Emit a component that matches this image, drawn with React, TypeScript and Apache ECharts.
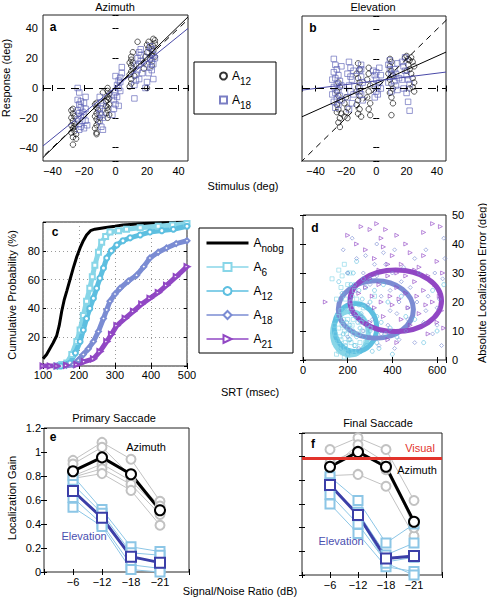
import React, { useEffect, useRef } from "react";
import * as echarts from "echarts";

const FONT = "Liberation Sans, Arial, Helvetica, sans-serif";

// ---------- Panel a (Azimuth) : [stimulus, response] ----------
const azA12: number[][] = [
  [-27,-38],[-25,-34],[-27,-33],[-28,-30],[-26,-29],[-27,-27],[-28,-25],[-26,-24],[-27,-22],[-28,-20],[-26,-19],[-27,-17],[-28,-15],[-27,-14],[-25,-31],[-26,-26],
  [-12,-31],[-12,-30],[-13,-27],[-12,-25],[-11,-23],[-12,-21],[-13,-19],[-12,-17],[-11,-15],[-12,-13],[-13,-11],[-12,-10],[-10,-20],[-8,-3],
  [-5,-20],[-4,-18],[-6,-17],[-5,-15],[-5,-13],[-4,-11],[-6,-9],[-5,-8],[-5,-6],[-4,-4],[-5,-2],[-5,0],[-6,-12],[-4,-7],
  [9,1],[10,3],[10,6],[9,9],[10,11],[11,13],[10,15],[9,17],[10,19],[10,21],[11,17],[14,31],[11,24],[12,8],
  [18,13],[18,17],[19,21],[20,24],[21,27],[20,29],[22,19],[23,22],[24,25],[24,28],[25,30],[25,32],[24,33],[23,15],[25,21],[21,31],[20,0],[23,26]
];
const azA18: number[][] = [
  [-24,0],[-23,-3],[-24,-8],[-23,-11],[-22,-13],[-24,-15],[-23,-17],[-22,-19],[-24,-21],[-23,-24],[-22,-26],[-23,-28],[-21,-16],[-21,-22],[-22,-9],
  [-20,-10],[-19,-14],[-20,-18],[-19,-22],[-18,-25],[-20,-27],[-19,-6],
  [-10,-6],[-9,-10],[-10,-14],[-9,-18],[-8,-20],[-10,-22],[-9,-26],[-8,-28],[-10,-17],[-8,-12],
  [-2,-18],[-1,-14],[0,-11],[-1,-8],[1,-6],[0,-3],[2,0],[1,2],[3,4],[3,7],[4,10],[2,5],[4,14],[-1,-5],[0,8],[3,-2],[2,-12],
  [12,-7],[12,2],[13,5],[13,9],[14,12],[15,16],[14,20],[16,22],[13,15],[15,24],[16,18],[15,6],[17,10],[16,26],
  [19,0],[20,4],[21,10],[22,14],[23,18],[22,20],[24,22],[23,26],[22,28],[24,16],[21,24],[25,20],[20,16],[23,12],[24,6]
];
const azFitA12: number[][] = [[-46,-46.7],[46,47.7]];
const azFitA18: number[][] = [[-46,-38.9],[46,40]];

// ---------- Panel b (Elevation) ----------
const elA12: number[][] = [
  [-25,4],[-24,1],[-26,-2],[-25,-5],[-24,-8],[-26,-11],[-25,-14],[-23,-17],[-24,-20],[-25,-23],[-24,-26],[-26,-16],
  [-20,-6],[-21,-10],[-19,-13],[-20,-16],[-21,-19],[-19,-20],
  [-12,17],[-11,13],[-13,10],[-12,7],[-11,4],[-12,1],[-13,-2],[-11,-5],[-12,-8],[-13,-11],[-11,-14],[-12,-17],[-10,-19],
  [-5,14],[-5,10],[-6,6],[-4,2],[-5,-2],[-6,-6],[-4,-10],[-5,-14],[-4,-18],
  [9,20],[10,18],[9,15],[10,12],[11,9],[9,6],[10,3],[11,0],[9,-3],[10,-6],[11,-10],[10,-18],[8,10],
  [19,21],[20,22],[21,20],[22,19],[23,21],[24,18],[25,15],[22,13],[23,10],[24,7],[25,4],[21,16],[20,12],[24,1],[25,-2],[22,0]
];
const elA18: number[][] = [
  [-28,20],[-27,16],[-26,13],[-28,11],[-25,9],[-27,7],[-24,5],[-26,3],[-28,1],[-25,-1],[-27,-3],[-24,-5],[-26,-7],[-28,-9],[-25,-11],[-27,-13],[-23,15],[-23,2],[-23,-8],[-29,6],[-29,-4],
  [-18,18],[-17,14],[-19,10],[-16,6],[-18,2],[-17,-2],[-19,-6],[-16,-10],[-18,-14],[-15,12],[-15,-4],[-17,8],
  [-10,16],[-11,12],[-10,8],[-9,4],[-11,0],[-10,-4],[-9,-8],[-10,13],[-11,-2],
  [-2,12],[-1,9],[0,6],[-2,3],[1,1],[0,-2],[-1,-6],[2,14],[3,9],[2,4],[3,0],[1,-4],[0,11],
  [8,16],[9,13],[10,10],[11,8],[12,5],[13,2],[14,-1],[8,4],[10,-2],[12,13],[14,17],[9,19],[15,7],[13,10],
  [17,18],[18,15],[19,12],[20,9],[21,6],[22,3],[18,0],[20,-3],[21,-9],[22,-15],[19,21],[17,6]
];
const elFitA12: number[][] = [[-49,-19.1],[46,24.6]];
const elFitA18: number[][] = [[-49,-1.1],[46,11.1]];
const unity: number[][] = [[-50,-50],[50,50]];

// ---------- Panel c : cumulative SRT [msec, %] ----------
const cumNobg: number[][] = [[100,5],[110,8],[119,12],[128,16],[138,21],[145,28],[152,38],[159,46],[166,52],[175,60],[184,68],[194,76],[203,82],[212,87],[221,91],[232,94],[244,95],[270,96],[300,97],[323,98],[380,99],[440,99.5],[500,100]];
const cumA6: number[][] = [[138,0],[152,1],[166,2],[180,8],[194,17],[203,25],[212,35],[221,45],[230,54],[237,62],[244,70],[254,79],[263,86],[274,90],[286,93],[310,94],[332,95],[370,96],[420,97],[460,98],[500,99]];
const cumA12: number[][] = [[150,0],[165,1],[175,2],[190,9],[203,17],[212,25],[221,33],[230,40],[240,47],[249,54],[258,61],[268,68],[277,75],[290,80],[305,84],[322,87],[342,89],[370,91],[397,93],[430,94],[462,95],[500,97]];
const cumA18: number[][] = [[140,0],[165,0.5],[184,1],[198,4],[212,8],[226,12],[240,17],[254,24],[268,33],[277,39],[286,45],[300,50],[314,54],[337,59],[360,63],[380,69],[397,75],[420,79],[443,82],[470,85],[500,87]];
const cumA21: number[][] = [[100,0],[120,0],[139,0],[165,0.5],[194,1],[215,3],[240,5],[258,10],[277,17],[290,22],[305,28],[328,33],[351,38],[374,43],[397,47],[420,51],[443,56],[470,62],[500,69]];

// ---------- Panel d : [SRT, abs. error] ----------
const errA6: number[][] = [[150,2],[160,3],[175,2.5],[190,4],[200,1.5],[210,3],[140,6],[165,8],[185,10],[205,7],[220,12],[235,5],[250,9],[180,14],[195,17],[215,20],[240,16],[260,13],[150,21],[170,25],[130,28],[200,26],[230,24],[280,6],[300,11],[175,12],[225,9],[155,15],[190,6],[245,3],[270,18],[320,22],[140,12],[210,30],[185,33],
  [160,5],[170,7],[180,3],[195,9],[205,11],[215,6],[225,14],[170,17],[190,21],[160,11],[145,9],[200,14],[230,2],[255,6],[265,10],[185,1],[220,18],[240,21],[175,29],[160,31]];
const errA12: number[][] = [[170,4],[200,2],[230,5],[260,3],[180,9],[210,12],[240,8],[270,14],[300,10],[330,6],[190,18],[220,22],[250,19],[280,25],[310,17],[160,27],[200,30],[240,34],[350,13],[380,20],[420,8],[460,15],[150,14],[285,5],[215,16],[265,21],[300,28],[340,4],[390,11],[600,10],[630,26],[175,23],[230,26],[255,11],[320,24],
  [190,5],[210,7],[225,10],[245,13],[260,16],[275,8],[290,12],[205,3],[235,15],[250,24],[270,28],[300,20],[310,3],[330,15],[360,26],[370,9],[195,13],[215,26],[285,18],[225,30],[400,2],[440,22],[500,14],[540,6],[580,24]];
const errA18: number[][] = [[180,38],[220,42],[240,35],[270,30],[300,26],[320,33],[360,37],[400,30],[440,27],[480,25],[520,30],[560,22],[600,18],[630,42],[625,28],[300,8],[340,5],[380,12],[420,16],[460,10],[500,6],[540,13],[580,9],[610,21],[260,15],[290,19],[350,22],[390,24],[430,20],[470,18],[200,8],[250,4],[410,4],[635,35],[330,29],
  [200,30],[230,25],[280,36],[330,40],[370,33],[410,38],[450,32],[500,35],[550,38],[590,30],[270,10],[310,14],[350,9],[390,17],[430,7],[470,14],[510,20],[550,17],[600,12],[620,5]];
const errA21: number[][] = [[100,20],[200,43],[260,46],[330,47],[370,45],[420,43],[580,47],[615,46],[540,44],[280,38],[320,35],[360,39],[400,36],[440,33],[480,37],[520,32],[560,29],[600,34],[625,30],[300,28],[340,26],[380,29],[420,25],[460,23],[500,27],[540,24],[580,20],[620,17],[630,11],[320,18],[360,15],[400,19],[440,14],[480,12],[520,16],[560,9],[600,13],[380,7],[420,6],[300,13],[250,23],[230,16],
  [280,25],[310,22],[350,20],[390,22],[430,21],[470,18],[510,22],[550,19],[590,26],[340,31],[380,33],[420,30],[460,29],[500,31],[350,42],[300,45],[240,40],[460,40],[540,36],[610,22]];
// ellipse fits: [centre SRT, centre error, half-width SRT, half-height error]
const ellA6: number[] = [212, 9.2, 80, 7.5];
const ellA12: number[] = [235, 11.2, 95, 8.3];
const ellA18: number[] = [326, 17.4, 168, 9.9];
const ellA21: number[] = [415, 20.4, 205, 10.6];

// ---------- Panels e / f : localization gain ----------
const snrLabels: string[] = ["\u22126", "\u221212", "\u221218", "\u221221"];
const primAzSubj: number[][] = [[0.93,1.08,0.94,0.59],[0.90,1.04,0.80,0.55],[0.80,0.90,0.76,0.52],[0.79,0.86,0.73,0.48],[0.78,0.82,0.68,0.39]];
const primElSubj: number[][] = [[0.80,0.52,0.21,0.17],[0.73,0.49,0.16,0.14],[0.69,0.45,0.12,0.08],[0.62,0.40,0.06,0.03],[0.54,0.38,0.02,0.00]];
const primAzMean: number[] = [0.84, 0.955, 0.815, 0.515];
const primElMean: number[] = [0.675, 0.452, 0.128, 0.078];
const finAzSubj: number[][] = [[1.06,1.16,1.06,0.63],[0.95,1.06,0.89,0.43],[0.84,0.85,0.75,0.33],[0.90,1.10,0.95,0.40]];
const finElSubj: number[][] = [[0.83,0.63,0.27,0.43],[0.75,0.53,0.17,0.27],[0.68,0.43,0.11,0.15],[0.60,0.35,0.07,0.03],[0.78,0.50,0.10,0.00]];
const finAzMean: number[] = [0.915, 1.04, 0.915, 0.45];
const finElMean: number[] = [0.76, 0.507, 0.14, 0.16];
const visualGain = 0.99;

// ---------- colours ----------
const C_BLUE_SQ = "#5a5fb5";
const C_A6 = "#88d6e8";
const C_A12 = "#5dbfe0";
const C_A18 = "#7b8cd3";
const C_A21 = "#9147c4";
const C_GRAY = "#c2c2c2";
const C_LBLUE = "#8cc6e6";
const C_MEANBLUE = "#3b3fa8";

const minus = (v: number) => (v < 0 ? "\u2212" + Math.abs(v) : String(v));

function ax(gridIndex: number, position: string, min: number, max: number, interval: number | undefined, fmt: ((v: number) => string) | null, margin = 4, split = false) {
  const o: any = {
    type: "value", gridIndex, position, min, max,
    axisLine: { show: false },
    axisTick: { show: true, inside: true, length: 3, lineStyle: { color: "#000", width: 1 } },
    splitLine: split ? { show: true, lineStyle: { color: "#9a9a9a", type: [1, 3], width: 1 } } : { show: false },
    axisLabel: fmt ? { show: true, formatter: fmt, fontFamily: FONT, fontSize: 11, color: "#000", margin } : { show: false },
  };
  if (interval !== undefined) o.interval = interval;
  return o;
}

const gridBox = (left: number, top: number, width: number, height: number) => ({ left, top, width, height, show: true, borderColor: "#222", borderWidth: 1 });

const hollow = (color: string, w = 0.8) => ({ color: "transparent", borderColor: color, borderWidth: w });

function text(x: number, y: number, s: string, opts: any = {}) {
  return {
    type: "text", x, y, rotation: opts.rotation || 0, z: 100,
    style: { text: s, fontFamily: FONT, fontSize: opts.size || 11, fontWeight: opts.bold ? "bold" : "normal", fill: opts.color || "#000", align: "center", verticalAlign: "middle" },
  };
}

export default function App() {
  const ref = useRef<HTMLDivElement>(null);
  useEffect(() => {
    if (!ref.current) return;
    const chart = echarts.init(ref.current, undefined, { renderer: "svg" });

    const abX = (v: number) => (Math.abs(v % 20) < 1e-9 ? minus(v) : "");
    const eX = (v: number) => snrLabels[v - 1] ?? "";
    const eY = (v: number) => String(Math.round(v * 10) / 10);

    const xAxis = [
      ax(0, "bottom", -46, 46, undefined, abX, 4), ax(0, "top", -46, 46, undefined, null),
      ax(1, "bottom", -49, 46, undefined, abX, 4), ax(1, "top", -49, 46, undefined, null),
      ax(2, "bottom", 100, 500, 100, (v) => String(v), 3, true), ax(2, "top", 100, 500, 100, null),
      ax(3, "bottom", 0, 640, 200, (v) => (v % 200 === 0 ? String(v) : ""), 4), ax(3, "top", 0, 640, 200, null),
      ax(4, "bottom", 0, 5, 1, eX, 4), ax(4, "top", 0, 5, 1, null),
      ax(5, "bottom", 0, 5, 1, eX, 4), ax(5, "top", 0, 5, 1, null),
    ];
    const yAxis = [
      ax(0, "left", -49, 49, undefined, abX, 5), ax(0, "right", -49, 49, undefined, null),
      ax(1, "left", -49, 49, undefined, null), ax(1, "right", -49, 49, undefined, null),
      ax(2, "left", 0, 100, 20, (v) => (v > 0 && v < 100 ? String(v) : ""), 3, true), ax(2, "right", 0, 100, 20, null),
      ax(3, "right", 0, 50, 10, (v) => String(v), 6), ax(3, "left", 0, 50, 10, null),
      ax(4, "left", 0, 1.2, 0.2, eY, 3), ax(4, "right", 0, 1.2, 0.2, null),
      ax(5, "left", 0, 1.2, 0.2, null), ax(5, "right", 0, 1.2, 0.2, null),
    ];

    const series: any[] = [];
    const idx = (g: number) => ({ xAxisIndex: 2 * g, yAxisIndex: 2 * g });

    // panels a & b
    const scatterPanel = (g: number, d12: number[][], d18: number[][], fit12: number[][], fit18: number[][]) => {
      series.push({ type: "line", ...idx(g), data: unity, symbol: "none", silent: true, lineStyle: { color: "#000", width: 1, type: [6, 5] },
        markLine: { silent: true, symbol: "none", label: { show: false }, lineStyle: { color: "#000", width: 1, type: [8, 6] }, data: [{ yAxis: 0 }] } });
      series.push({ name: "sA12", type: "scatter", ...idx(g), data: d12, symbol: "circle", symbolSize: 5.5, itemStyle: hollow("#000") });
      series.push({ name: "sA18", type: "scatter", ...idx(g), data: d18, symbol: "rect", symbolSize: 5.5, itemStyle: hollow(C_BLUE_SQ) });
      series.push({ type: "line", ...idx(g), data: fit12, symbol: "none", silent: true, lineStyle: { color: "#000", width: 1 } });
      series.push({ type: "line", ...idx(g), data: fit18, symbol: "none", silent: true, lineStyle: { color: "#4a4aa8", width: 1 } });
    };
    scatterPanel(0, azA12, azA18, azFitA12, azFitA18);
    scatterPanel(1, elA12, elA18, elFitA12, elFitA18);

    // panel c
    const cum = (name: string, data: number[][], color: string, symbol: string, width: number, rotate = 0) => ({
      name, type: "line", ...idx(2), data, symbol, symbolSize: 5, symbolRotate: rotate, showSymbol: symbol !== "none",
      lineStyle: { color, width }, itemStyle: { color, borderColor: color, borderWidth: 1 },
    });
    series.push(cum("nobg", cumNobg, "#000", "none", 3));
    series.push(cum("a6", cumA6, C_A6, "emptyRect", 5));
    series.push(cum("a12", cumA12, C_A12, "emptyCircle", 5));
    series.push(cum("a18", cumA18, C_A18, "emptyDiamond", 5));
    series.push(cum("a21", cumA21, C_A21, "emptyTriangle", 5, -90));

    // panel d
    const errScatter = (data: number[][], color: string, symbol: string, rotate = 0) => ({
      type: "scatter", ...idx(3), data, symbol, symbolSize: 4, symbolRotate: rotate, itemStyle: hollow(color, 0.8),
    });
    series.push(errScatter(errA6, C_A6, "rect"));
    series.push(errScatter(errA12, C_A12, "circle"));
    series.push(errScatter(errA18, C_A18, "diamond"));
    series.push(errScatter(errA21, C_A21, "triangle", -90));
    const ellipse = (e: number[], color: string) => ({
      type: "custom", ...idx(3), data: [e], silent: true,
      renderItem: (_p: any, api: any) => {
        const c = api.coord([api.value(0), api.value(1)]);
        const s = api.size([api.value(2), api.value(3)]);
        return { type: "ellipse", shape: { cx: c[0], cy: c[1], rx: s[0], ry: s[1] }, style: { fill: "none", stroke: color, lineWidth: 5 } };
      },
    });
    series.push(ellipse(ellA6, C_A6));
    series.push(ellipse(ellA12, C_A12));
    series.push(ellipse(ellA18, C_A18));
    series.push(ellipse(ellA21, C_A21));

    // panels e & f
    const toXY = (arr: number[]) => arr.map((v, i) => [i + 1, v]);
    const gainPanel = (g: number, azS: number[][], elS: number[][], azM: number[], elM: number[], visual: number | null) => {
      azS.forEach((s, k) => {
        const o: any = { type: "line", ...idx(g), data: toXY(s), symbol: "emptyCircle", symbolSize: 9, silent: true,
          lineStyle: { color: C_GRAY, width: 1 }, itemStyle: { color: C_GRAY, borderWidth: 1 } };
        if (k === 0 && visual !== null) {
          o.markLine = { silent: true, symbol: "none", label: { show: false }, lineStyle: { color: "#e2332b", width: 3, type: "solid" }, data: [{ yAxis: visual }] };
        }
        series.push(o);
      });
      elS.forEach((s) => {
        series.push({ type: "line", ...idx(g), data: toXY(s), symbol: "emptyRect", symbolSize: 9, silent: true,
          lineStyle: { color: C_LBLUE, width: 1 }, itemStyle: { color: C_LBLUE, borderWidth: 1 } });
      });
      series.push({ type: "line", ...idx(g), data: toXY(azM), symbol: "emptyCircle", symbolSize: 10, silent: true,
        lineStyle: { color: "#000", width: 3 }, itemStyle: { color: "#000", borderWidth: 2.5 } });
      series.push({ type: "line", ...idx(g), data: toXY(elM), symbol: "emptyRect", symbolSize: 10, silent: true,
        lineStyle: { color: C_MEANBLUE, width: 3 }, itemStyle: { color: C_MEANBLUE, borderWidth: 2.5 } });
    };
    gainPanel(4, primAzSubj, primElSubj, primAzMean, primElMean, null);
    gainPanel(5, finAzSubj, finElSubj, finAzMean, finElMean, visualGain);

    const rich = {
      A: { fontSize: 12, fontFamily: FONT, lineHeight: 20, color: "#000" },
      s: { fontSize: 10, fontFamily: FONT, lineHeight: 10, padding: [10, 0, 0, 0], color: "#000" },
    };
    const subName: Record<string, string> = { sA12: "12", sA18: "18", nobg: "nobg", a6: "6", a12: "12", a18: "18", a21: "21" };

    const option: any = {
      animation: false,
      backgroundColor: "#fff",
      grid: [
        gridBox(43, 15, 145, 146),
        gridBox(302, 16, 144, 145),
        gridBox(43, 222, 144, 144),
        gridBox(303, 215, 143, 145),
        gridBox(44, 428, 145, 144),
        gridBox(302, 433, 140, 142),
      ],
      xAxis, yAxis, series,
      legend: [
        {
          selectedMode: false, orient: "vertical", left: 219, top: 66, itemWidth: 7, itemHeight: 7, itemGap: 4, padding: 0,
          data: ["sA12", "sA18"],
          formatter: (n: string) => `{A|A}{s|${subName[n]}}`,
          textStyle: { rich },
        },
        {
          selectedMode: false, orient: "vertical", left: 205, top: 233, itemWidth: 42, itemHeight: 10, itemGap: 4, padding: 0,
          data: [
            { name: "nobg", lineStyle: { width: 3 }, itemStyle: { opacity: 0 } },
            { name: "a6", lineStyle: { width: 1.5 } },
            { name: "a12", lineStyle: { width: 1.5 } },
            { name: "a18", lineStyle: { width: 1.5 } },
            { name: "a21", lineStyle: { width: 1.5 } },
          ],
          formatter: (n: string) => `{A|A}{s|${subName[n]}}`,
          textStyle: { rich },
        },
      ],
      graphic: [
        { type: "rect", shape: { x: 194, y: 62, width: 82, height: 52 }, style: { fill: "none", stroke: "#000", lineWidth: 1 } },
        { type: "rect", shape: { x: 199, y: 228, width: 94, height: 125 }, style: { fill: "none", stroke: "#000", lineWidth: 1 } },
        text(115, 7, "Azimuth"),
        text(373, 7, "Elevation"),
        text(6, 78, "Response (deg)", { rotation: Math.PI / 2 }),
        text(243, 186, "Stimulus (deg)"),
        text(12, 295, "Cumulative Probability (%)", { rotation: Math.PI / 2 }),
        text(250, 392, "SRT (msec)"),
        text(482, 283, "Absolute Localization Error (deg)", { rotation: Math.PI / 2 }),
        text(114, 418, "Primary Saccade"),
        text(378, 423, "Final Saccade"),
        text(12, 498, "Localization Gain", { rotation: Math.PI / 2 }),
        text(240, 591, "Signal/Noise Ratio (dB)"),
        text(53, 27, "a", { bold: true, size: 12 }),
        text(313, 28, "b", { bold: true, size: 12 }),
        text(55, 232, "c", { bold: true, size: 12 }),
        text(315, 228, "d", { bold: true, size: 12 }),
        text(53, 437, "e", { bold: true, size: 12 }),
        text(313, 444, "f", { bold: true, size: 12 }),
        text(146, 447, "Azimuth"),
        text(84, 536, "Elevation", { color: "#4b4fb0" }),
        text(420, 448, "Visual", { color: "#e2332b" }),
        text(417, 470, "Azimuth"),
        text(341, 541, "Elevation", { color: "#4b4fb0" }),
      ],
    };
    chart.setOption(option);
    return () => chart.dispose();
  }, []);
  return <div ref={ref} style={{ position: "absolute", left: 0, top: 0, width: 487, height: 606 }} />;
}
